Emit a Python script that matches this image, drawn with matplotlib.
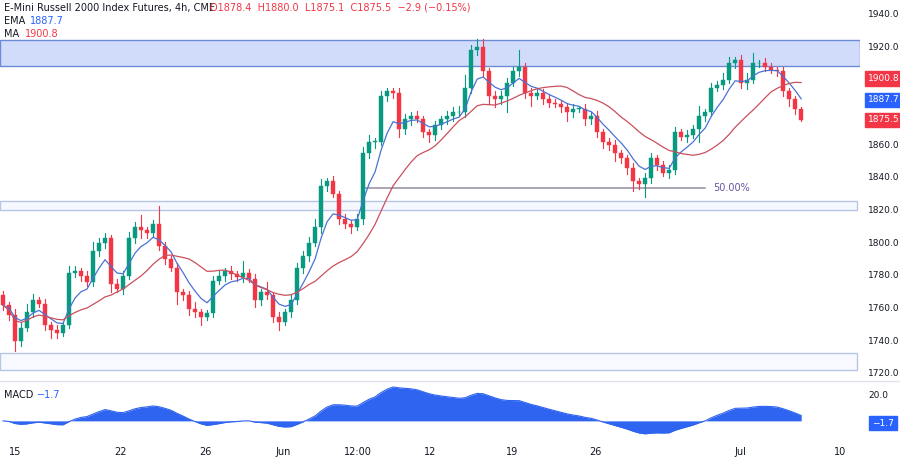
import matplotlib
matplotlib.use("Agg")
import matplotlib.pyplot as plt
import numpy as np
from matplotlib.patches import Rectangle

closes = [1762,1756,1740,1748,1758,1765,1763,1750,1747,1745,1750,1782,1783,1780,1776,1795,1800,1803,1775,1772,
          1780,1803,1810,1808,1806,1812,1798,1790,1785,1770,1768,1760,1758,1755,1757,1777,1780,1783,1781,1779,
          1782,1778,1765,1770,1768,1755,1752,1758,1765,1785,1792,1800,1810,1835,1838,1830,1815,1812,1810,1815,
          1855,1862,1862,1890,1893,1892,1870,1876,1878,1876,1868,1866,1872,1876,1878,1880,1880,1895,1918,1920,
          1905,1890,1888,1890,1898,1905,1908,1892,1890,1892,1888,1886,1885,1883,1880,1882,1882,1876,1878,1868,
          1862,1860,1855,1852,1846,1838,1836,1840,1852,1848,1843,1845,1868,1865,1866,1870,1878,1880,1895,1897,
          1900,1910,1912,1898,1900,1910,1910,1908,1906,1905,1893,1888,1882,1875.5]
first_open = 1768
upper_wick = [3,2,4,3,5,4,2,3,2,3,2,4,3,2,3,6,3,3,2,3,
              3,4,3,7,2,2,11,3,2,3,2,3,4,2,2,3,3,2,3,2,
              7,2,3,2,6,2,3,2,4,3,3,4,5,4,2,3,2,3,2,3,
              4,4,2,3,2,2,3,3,2,3,2,2,3,2,3,3,4,8,3,5,
              5,2,3,3,3,3,10,2,3,2,2,3,2,2,3,3,2,3,2,3,
              2,2,3,2,2,3,2,3,3,2,2,3,3,2,3,2,6,2,3,2,
              4,4,2,3,4,6,2,3,2,2,3,2,2,1]
lower_wick = [3,3,6,3,2,3,2,3,5,3,2,2,3,3,2,2,3,3,5,2,
              3,2,3,5,3,2,2,3,2,7,3,4,3,5,2,2,2,3,3,2,
              3,2,4,3,2,3,5,2,3,2,3,3,2,4,3,2,3,3,4,2,
              3,3,4,2,3,3,5,3,4,2,3,4,3,2,3,3,2,3,3,3,
              3,5,5,3,10,2,3,3,6,2,3,3,2,3,5,3,2,4,3,3,
              4,3,5,3,4,6,3,8,3,3,2,3,3,2,3,2,8,3,2,2,
              3,2,3,3,4,2,2,3,2,3,3,4,3,1]

date_labels = ["15", "22", "26", "Jun", "12:00", "12", "19", "26", "Jul", "10"]
date_pos = [2, 19.5, 33.7, 46.7, 59.2, 71.2, 84.8, 98.7, 122.8, 139.5]
price_ticks = [1720, 1740, 1760, 1780, 1800, 1820, 1840, 1860, 1920, 1940]

c = np.array(closes, dtype=float)
o = np.concatenate([[first_open], c[:-1]])
hi = np.maximum(o, c) + np.array(upper_wick)
lo = np.minimum(o, c) - np.array(lower_wick)
n = len(c)
idx = np.arange(n)

def ema(x, p):
    a = 2 / (p + 1); out = [x[0]]
    for v in x[1:]:
        out.append(a * v + (1 - a) * out[-1])
    return np.array(out)

ema9 = ema(c, 6)
ma = np.array([c[max(0, i - 16):i + 1].mean() for i in range(n)])
macd = ema(c, 12) - ema(c, 26)

GREEN, RED = "#089981", "#f23645"
W, H = 900, 462
FS = 7
RS = 6.5
fig = plt.figure(figsize=(9, 4.62), dpi=100)
ax = fig.add_axes([0, 1 - 380 / H, 860 / W, 380 / H])
ax2 = fig.add_axes([0, 1 - 440 / H, 860 / W, 58 / H])
x0, x1 = -0.5, 142.8
for a in (ax, ax2):
    a.set_xlim(x0, x1)
    for s in a.spines.values():
        s.set_visible(False)
    a.set_xticks([]); a.set_yticks([])
ax.set_ylim(1716.3, 1948.7)
ax2.set_ylim(-15.4, 31.3)
fig.add_artist(plt.Line2D([0, 1], [1 - 381 / H] * 2, color="#e0e3eb", lw=1))

ax.add_patch(Rectangle((x0, 1908.4), x1 - x0, 15.9, facecolor="#d1dcfb", edgecolor="#6b8bd6", lw=1, zorder=0))
ax.add_patch(Rectangle((x0, 1820.3), 142.3 - x0, 5.5, facecolor="#f5f8fe", edgecolor="#b8c6e6", lw=1, zorder=0))
ax.add_patch(Rectangle((x0, 1722.4), 142.3 - x0, 10.5, facecolor="#f7f9fe", edgecolor="#b8c6e6", lw=1, zorder=0))
ax.plot([60.3, 117], [1833.8, 1833.8], color="#9c95a8", lw=1.2, zorder=1)
ax.text(118.3, 1833.8, "50.00%", color="#6a55a3", fontsize=FS, va="center")

for i in idx:
    col = GREEN if c[i] >= o[i] else RED
    ax.plot([i, i], [lo[i], hi[i]], color=col, lw=0.8, zorder=2)
    bot = min(o[i], c[i]); h = max(abs(c[i] - o[i]), 0.4)
    ax.add_patch(Rectangle((i - 0.33, bot), 0.66, h, facecolor=col, edgecolor=col, lw=0.3, zorder=3))
ax.plot(idx, ema9, color="#4a72d4", lw=0.9, zorder=4)
ax.plot(idx, ma, color="#c9505d", lw=0.9, zorder=4)

ax2.fill_between(idx, 0, macd, color="#2f64f0", lw=0)
ax2.plot(idx, macd, color="#2f64f0", lw=0.8)

def fy(v):
    return 1 - (47 + (1920 - v) * 1.635) / H
for p in price_ticks:
    fig.text(868 / W, fy(p), f"{p:.1f}", fontsize=RS, va="center", color="#131722")
for v, col in [(1900.8, RED), (1887.7, "#2962ff"), (1875.5, RED)]:
    fig.text(868 / W, fy(v), f"{v:.1f}", fontsize=RS, va="center", color="white",
             bbox=dict(boxstyle="square,pad=0.3", fc=col, ec=col))
fig.text(868 / W, 1 - 396 / H, "20.0", fontsize=RS, va="center", color="#131722")
fig.text(872 / W, 1 - 423 / H, "−1.7", fontsize=RS, va="center", color="white",
         bbox=dict(boxstyle="square,pad=0.3", fc="#2962ff", ec="#2962ff"))

for lab, p in zip(date_labels, date_pos):
    fx = (p - x0) / (x1 - x0) * 860 / W
    fig.text(fx, 1 - 452 / H, lab, fontsize=FS, ha="center", va="center", color="#131722")

fig.text(4 / W, 1 - 8 / H, "E-Mini Russell 2000 Index Futures, 4h, CME", fontsize=FS, va="center", color="#131722")
fig.text(210 / W, 1 - 8 / H, "O1878.4  H1880.0  L1875.1  C1875.5  −2.9 (−0.15%)", fontsize=FS, va="center", color=RED)
fig.text(4 / W, 1 - 21 / H, "EMA", fontsize=FS, va="center", color="#131722")
fig.text(30 / W, 1 - 21 / H, "1887.7", fontsize=FS, va="center", color="#2962ff")
fig.text(4 / W, 1 - 34 / H, "MA", fontsize=FS, va="center", color="#131722")
fig.text(25 / W, 1 - 34 / H, "1900.8", fontsize=FS, va="center", color=RED)
fig.text(4 / W, 1 - 395 / H, "MACD", fontsize=FS, va="center", color="#131722")
fig.text(37 / W, 1 - 395 / H, "−1.7", fontsize=FS, va="center", color="#2962ff")

fig.savefig("out.png", dpi=100)
